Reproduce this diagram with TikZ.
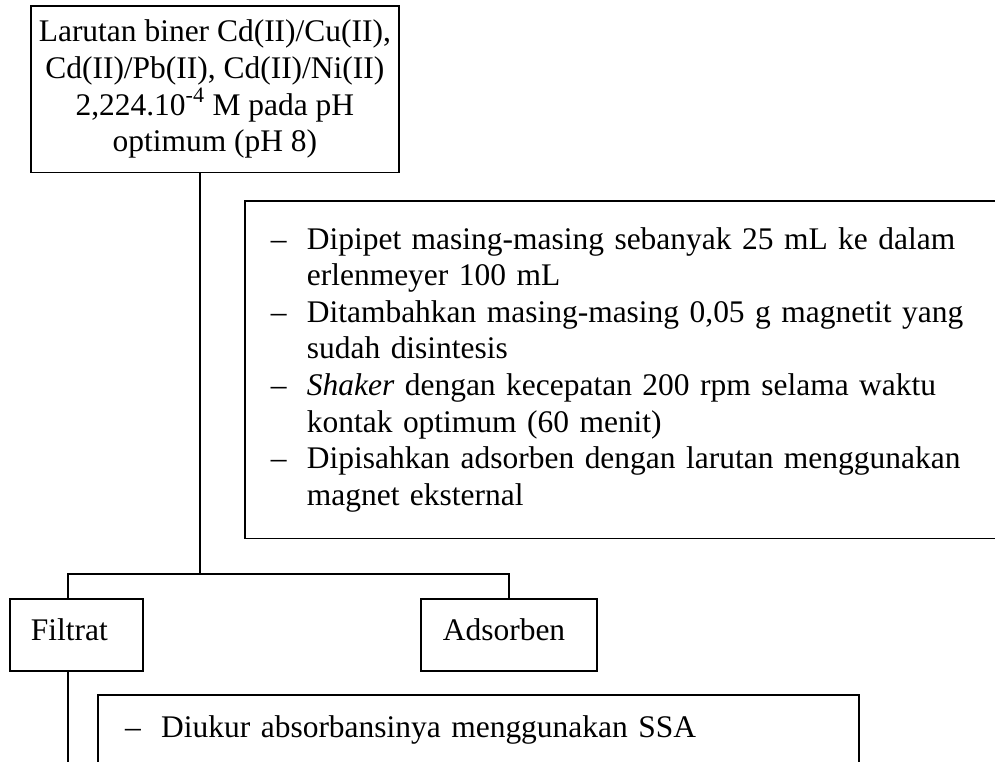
\documentclass[tikz,border=0pt]{standalone}
\usepackage{fontspec}
\setmainfont{Liberation Serif}
\usetikzlibrary{positioning,calc}

\begin{document}
\begin{tikzpicture}[
    x=0.75pt, y=-0.75pt,
    % Define styles
    stepbox/.style={
        rectangle,
        draw=black,
        line width=1.3pt,
        anchor=north west,
        font=\fontsize{23.6}{27.4}\selectfont
    },
    itembox/.style={
        stepbox,
        align=left,
        inner xsep=19.5pt
    },
    link/.style={draw=black, line width=1.3pt}
]

% Page
\useasboundingbox (0,0) rectangle (995,762);
\fill[white] (0,0) rectangle (995,762);
\clip (0,0) rectangle (995,762);

% Start solution
\node[stepbox, align=center, minimum width=276pt, minimum height=125pt] (larutan) at (30,5)
    {Larutan biner Cd(II)/Cu(II),\\
     Cd(II)/Pb(II), Cd(II)/Ni(II)\\
     2,224.10\textsuperscript{-4} M pada pH\\
     optimum (pH 8)};

% Procedure
\node[itembox, text width=555pt, minimum height=252pt, inner ysep=20pt] (proses) at (244,200)
    {\makebox[27pt][l]{--}Dipipet masing-masing sebanyak 25 mL ke dalam\\
     \hspace*{27pt}erlenmeyer 100 mL\\
     \makebox[27pt][l]{--}Ditambahkan masing-masing 0,05 g magnetit yang\\
     \hspace*{27pt}sudah disintesis\\
     \makebox[27pt][l]{--}\textit{Shaker} dengan kecepatan 200 rpm selama waktu\\
     \hspace*{27pt}kontak optimum (60 menit)\\
     \makebox[27pt][l]{--}Dipisahkan adsorben dengan larutan menggunakan\\
     \hspace*{27pt}magnet eksternal};

% Results
\node[itembox, inner xsep=15.75pt, text width=68.25pt, text height=16.5pt, text depth=8pt,
      minimum height=54pt] (filtrat) at (9,598) {Filtrat};
\node[itembox, inner xsep=16.5pt, text width=99pt, text height=16.5pt, text depth=8pt,
      minimum height=54pt] (adsorben) at (420,598) {Adsorben};

% Measurement
\node[itembox, inner xsep=20.5pt, inner ysep=15.75pt, text width=530pt,
      text height=16.5pt, text depth=80pt] (ukur) at (97,694)
    {\makebox[27pt][l]{--}Diukur absorbansinya menggunakan SSA};

% Connections
\coordinate (split) at (200,574);
\coordinate (fline) at (68,574);
\coordinate (pageend) at (68,775);
\draw[link] (split |- larutan.south) -- (split);
\draw[link] (fline |- filtrat.north) -- (fline) -- (fline -| adsorben.north) -- (adsorben.north);
\draw[link] (fline |- filtrat.south) -- (pageend);

\end{tikzpicture}
\end{document}
